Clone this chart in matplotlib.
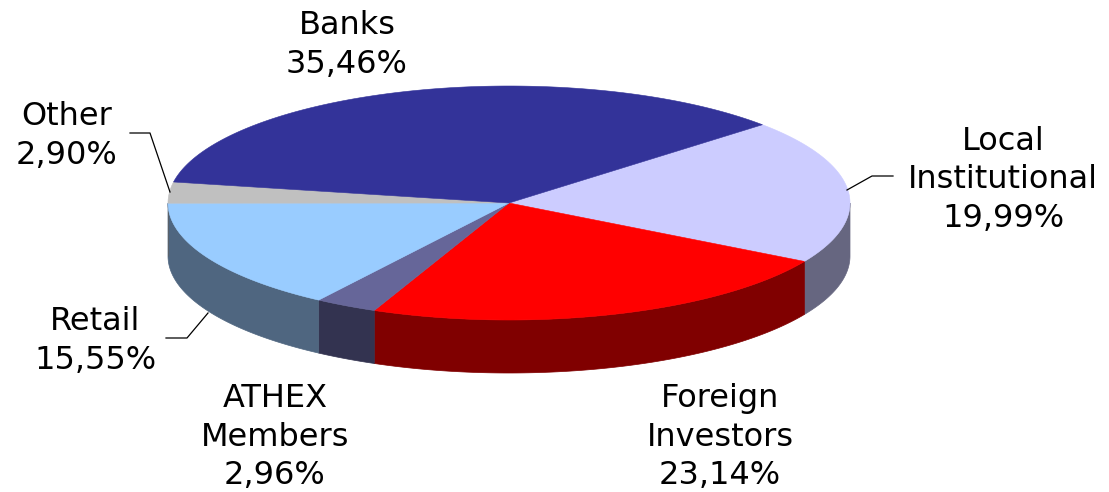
import numpy as np
import matplotlib
matplotlib.use("Agg")
import matplotlib.pyplot as plt

categories = ["Local\nInstitutional", "Foreign\nInvestors", "ATHEX\nMembers", "Retail", "Other", "Banks"]
shares = [19.99, 23.14, 2.96, 15.55, 2.90, 35.46]
share_labels = ["19,99%", "23,14%", "2,96%", "15,55%", "2,90%", "35,46%"]
top_colors = ["#CCCCFF", "#FF0000", "#666699", "#99CCFF", "#C0C0C0", "#333399"]
side_colors = ["#666680", "#800000", "#333350", "#4F6680", "#606060", "#1A1A4D"]

W, H = 1109, 492
fig = plt.figure(figsize=(W / 100, H / 100), dpi=100)
ax = fig.add_axes([0, 0, 1, 1])
ax.set_xlim(0, W)
ax.set_ylim(H, 0)
ax.axis("off")
plt.rcParams["font.family"] = "DejaVu Sans"

cx, cy, rx, ry, depth = 509, 203, 341, 117, 53
start = 42.0

# wedge boundaries, clockwise from the start angle
fracs = np.array(shares) / np.sum(shares)
edges = start - np.concatenate([[0], np.cumsum(fracs)]) * 360


def pt(a):
    r = np.radians(a)
    return cx + rx * np.cos(r), cy - ry * np.sin(r)


# outer walls (only the front half, 180..360 degrees below the centre)
for i in range(len(shares)):
    a0, a1 = edges[i], edges[i + 1]
    for lo, hi in [(-180, 0), (-540, -360)]:
        s, e = max(a1, lo), min(a0, hi)
        if e > s:
            t = np.linspace(e, s, 120)
            x, y = pt(t)
            ax.fill(np.r_[x, x[::-1]], np.r_[y, y[::-1] + depth],
                    color=side_colors[i], lw=0.5, zorder=2)

# top faces
for i in range(len(shares)):
    t = np.linspace(edges[i], edges[i + 1], 200)
    x, y = pt(t)
    ax.fill(np.r_[cx, x], np.r_[cy, y], color=top_colors[i], lw=0.4, zorder=3)

label_pos = [(1003, 180), (720, 437), (275, 437), (95, 341), (67, 136), (347, 45)]
for name, val, (lx, ly) in zip(categories, share_labels, label_pos):
    ax.text(lx, ly, f"{name}\n{val}", ha="center", va="center", fontsize=23,
            color="black", linespacing=1.33, zorder=5)

# leader lines
ax.plot([847, 872, 893], [190, 176, 176], color="black", lw=0.9, zorder=4)
ax.plot([208, 187, 166], [313, 338, 338], color="black", lw=0.9, zorder=4)
ax.plot([170, 150, 130], [192, 133, 133], color="black", lw=0.9, zorder=4)

fig.savefig("out.png", dpi=100)
